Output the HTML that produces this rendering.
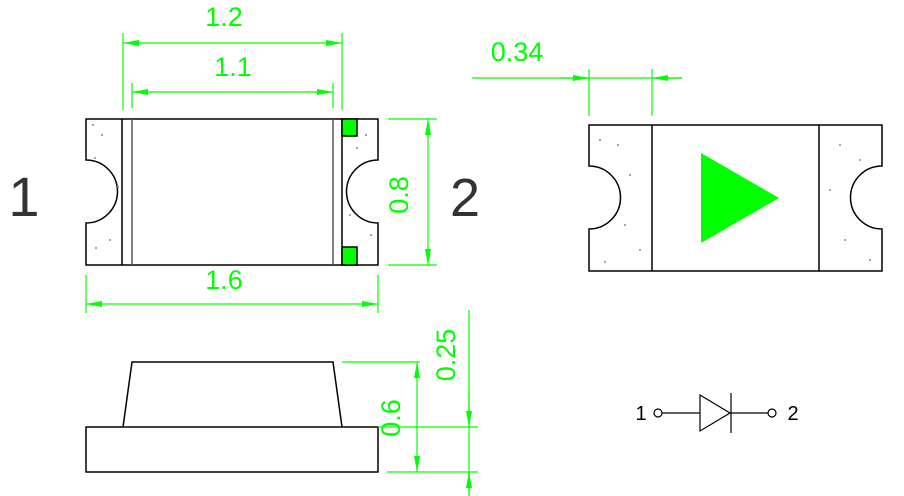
<!DOCTYPE html>
<html><head><style>body{margin:0;background:#fff}svg{display:block}</style></head><body>
<svg width="904" height="496" viewBox="0 0 904 496" xmlns="http://www.w3.org/2000/svg" font-family="Liberation Sans, sans-serif">
<defs>
<marker id="a" viewBox="0 0 16 6" refX="16" refY="3" markerWidth="16" markerHeight="6" orient="auto-start-reverse" markerUnits="userSpaceOnUse"><path d="M0,0L16,3L0,6z" fill="#0f0"/></marker>
</defs>
<g fill="none" stroke="#000" stroke-width="1.5">
<path d="M86,119H378V160A31,31 0 0 0 378,223V265H86V223A31,31 0 0 0 86,160Z" fill="#fff"/>
<line x1="122" y1="119" x2="122" y2="265"/><line x1="132" y1="119" x2="132" y2="265" stroke="#555"/>
<line x1="333" y1="119" x2="333" y2="265" stroke="#555"/><line x1="342" y1="119" x2="342" y2="265"/>
<rect x="342" y="119" width="15" height="17" fill="#0f0"/>
<rect x="342" y="247" width="15" height="18" fill="#0f0"/>
<path d="M589,125H882V166A31,31 0 0 0 882,229V271H589V229A31,31 0 0 0 589,166Z" fill="#fff"/>
<line x1="652" y1="125" x2="652" y2="271"/><line x1="819" y1="125" x2="819" y2="271"/>
<rect x="86" y="427" width="292" height="45"/>
<path d="M123,427L132,362H333L342,427"/>
<circle cx="658" cy="413" r="4" stroke-width="1.2"/><circle cx="772" cy="413" r="4" stroke-width="1.2"/>
<path d="M662,413H700M731,413H768M700,395L730,413L700,431ZM731,393V433" stroke-width="1.2"/>
</g>
<polygon points="701,153 779,198 701,243" fill="#0f0"/>
<g fill="#888">
<circle cx="93" cy="125" r="1"/><circle cx="102" cy="135" r="1"/><circle cx="95" cy="158" r="1"/><circle cx="110" cy="240" r="1"/><circle cx="96" cy="248" r="1"/><circle cx="118" cy="187" r="1"/><circle cx="366" cy="135" r="1"/><circle cx="357" cy="148" r="1"/><circle cx="371" cy="235" r="1"/><circle cx="350" cy="215" r="1"/>
<circle cx="600" cy="140" r="1"/><circle cx="618" cy="145" r="1"/><circle cx="630" cy="175" r="1"/><circle cx="625" cy="225" r="1"/><circle cx="640" cy="250" r="1"/><circle cx="605" cy="262" r="1"/><circle cx="840" cy="145" r="1"/><circle cx="860" cy="160" r="1"/><circle cx="830" cy="190" r="1"/><circle cx="845" cy="240" r="1"/><circle cx="870" cy="260" r="1"/>
</g>
<g stroke="#0f0" stroke-width="1.2" fill="none">
<path d="M123,33V110M342,33V110M132,83V108M333,83V108M86,275V313M378,275V313M388,119H437M388,265H437"/>
<line x1="123" y1="43" x2="342" y2="43" marker-start="url(#a)" marker-end="url(#a)"/>
<line x1="132" y1="92" x2="333" y2="92" marker-start="url(#a)" marker-end="url(#a)"/>
<line x1="86" y1="304" x2="378" y2="304" marker-start="url(#a)" marker-end="url(#a)"/>
<line x1="428" y1="119" x2="428" y2="265" marker-start="url(#a)" marker-end="url(#a)"/>
<path d="M589,69V116M652,69V116M472,78H682"/>
<line x1="560" y1="78" x2="589" y2="78" marker-end="url(#a)"/>
<line x1="682" y1="78" x2="652" y2="78" marker-end="url(#a)"/>
<path d="M342,362H420M387,472H478M378,427H478M469,310V496"/>
<line x1="417" y1="362" x2="417" y2="472" marker-start="url(#a)" marker-end="url(#a)"/>
<line x1="469" y1="390" x2="469" y2="427" marker-end="url(#a)"/>
<line x1="469" y1="496" x2="469" y2="472" marker-end="url(#a)"/>
</g>
<g fill="#0f0" font-size="27" text-anchor="middle">
<text x="224" y="26">1.2</text>
<text x="233" y="76">1.1</text>
<text x="224" y="289">1.6</text>
<text x="517" y="61">0.34</text>
<text transform="translate(408,195) rotate(-90)">0.8</text>
<text transform="translate(400,418) rotate(-90)">0.6</text>
<text transform="translate(455,355) rotate(-90)">0.25</text>
</g>
<g fill="#000" text-anchor="middle">
<text x="24" y="216" font-size="56" fill="#333">1</text>
<text x="465" y="216" font-size="54" fill="#333">2</text>
<text x="641" y="420" font-size="20">1</text>
<text x="793" y="420" font-size="20">2</text>
</g>
</svg>
</body></html>
